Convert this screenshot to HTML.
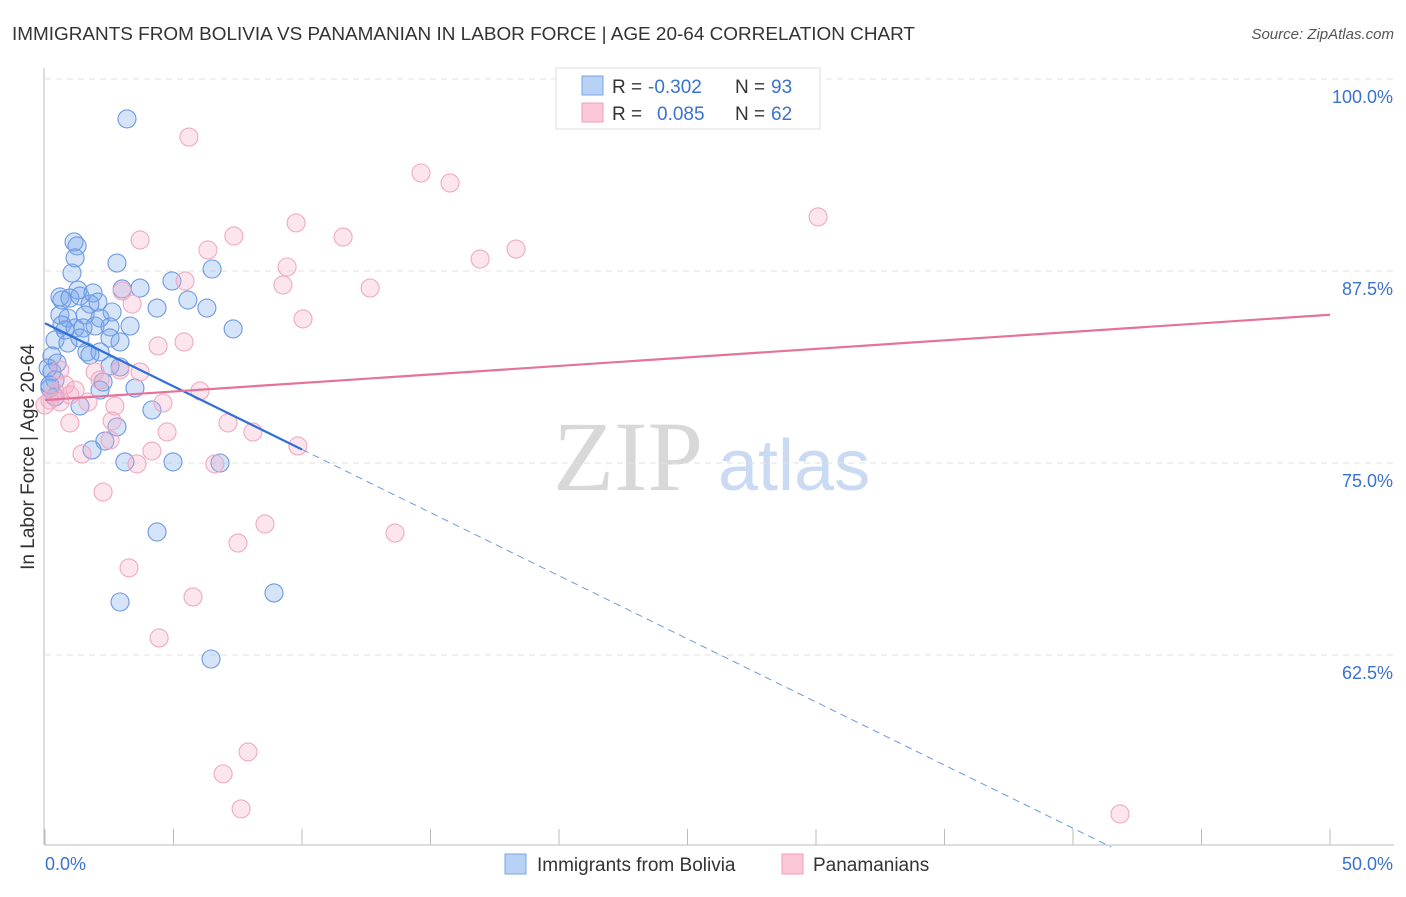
<!DOCTYPE html>
<html><head><meta charset="utf-8"><style>
body{margin:0;background:#fff;font-family:"Liberation Sans",sans-serif;}
svg text{font-family:"Liberation Sans",sans-serif;}
svg text.serif{font-family:"Liberation Serif",serif;}
</style></head><body>
<svg id="chart" width="1406" height="892" xmlns="http://www.w3.org/2000/svg">
<text x="12" y="40" font-size="18" fill="#333" textLength="903" lengthAdjust="spacingAndGlyphs">IMMIGRANTS FROM BOLIVIA VS PANAMANIAN IN LABOR FORCE | AGE 20-64 CORRELATION CHART</text>
<text x="1394" y="39" font-size="15" fill="#555" text-anchor="end" font-style="italic">Source: ZipAtlas.com</text>
<g>
<text class="serif" x="553" y="490" font-size="100" fill="#d8d8d8">ZIP</text>
<text x="718" y="490" font-size="72" fill="#c9daf2">atlas</text>
</g>
<g id="grid"></g>
<g id="axes"></g>
<g id="blue"></g>
<g id="pink"></g>
<g id="trends"></g>
<g>
<rect x="556" y="68" width="264" height="61" fill="#fff" stroke="#ddd"/>
<rect x="582" y="76" width="21" height="19" fill="#b8d2f6" stroke="#7aa6e6"/>
<rect x="582" y="103" width="21" height="19" fill="#fcc8d8" stroke="#ee9cb8"/>
<text x="612" y="93" font-size="19" fill="#333">R =</text>
<text x="648" y="93" font-size="19" fill="#3a72d0">-0.302</text>
<text x="735" y="93" font-size="19" fill="#333">N =</text>
<text x="771" y="93" font-size="19" fill="#3a72d0">93</text>
<text x="612" y="120" font-size="19" fill="#333">R =</text>
<text x="657" y="120" font-size="19" fill="#3a72d0">0.085</text>
<text x="735" y="120" font-size="19" fill="#333">N =</text>
<text x="771" y="120" font-size="19" fill="#3a72d0">62</text>
</g>
<g>
<rect x="505" y="854" width="21" height="20" fill="#b8d2f6" stroke="#7aa6e6"/>
<text x="537" y="871" font-size="19" fill="#333">Immigrants from Bolivia</text>
<rect x="782" y="854" width="21" height="20" fill="#fcc8d8" stroke="#ee9cb8"/>
<text x="813" y="871" font-size="19" fill="#333">Panamanians</text>
</g>
<text transform="translate(34,457) rotate(-90)" font-size="19" fill="#333" text-anchor="middle">In Labor Force | Age 20-64</text>
</svg>
<script>
const yTicks=[100,87.5,75,62.5];
const yTickLabels=["100.0%","87.5%","75.0%","62.5%"];
const xTickLabels=["0.0%","50.0%"];
const blueX=[3.19,1.13,1.25,1.17,2.80,1.05,6.50,4.94,3.70,3.00,1.28,0.58,0.66,0.97,1.36,1.87,5.56,2.06,4.36,6.30,1.75,2.61,0.89,1.56,0.58,3.31,7.32,0.66,1.17,1.48,1.95,2.53,0.39,0.89,1.36,2.53,1.63,2.14,1.75,0.27,0.47,0.27,0.12,0.39,0.19,2.92,2.53,2.26,3.50,2.14,0.39,1.36,4.16,2.80,2.33,1.83,3.11,4.98,6.81,4.36,2.92,8.91,6.46,0.78,2.14,2.92,0.19];
const blueY=[97.40,89.39,89.13,88.35,88.02,87.37,87.63,86.85,86.39,86.33,86.26,85.81,85.61,85.74,85.87,86.07,85.61,85.48,85.09,85.09,85.35,84.83,84.44,84.64,84.64,83.92,83.73,83.99,83.79,83.79,83.92,83.86,83.01,82.81,83.14,83.14,82.23,82.23,82.03,81.97,81.51,80.93,81.19,80.40,79.88,81.25,81.32,80.27,79.88,79.75,79.30,78.71,78.45,77.35,76.43,75.85,75.07,75.07,75.00,70.51,65.95,66.54,62.24,83.66,84.44,82.88,80.08];
const pinkX=[5.60,23.15,14.63,15.76,9.77,30.08,3.70,7.35,11.60,6.34,18.33,16.93,9.42,9.26,12.65,5.45,3.00,3.39,10.04,4.40,5.41,0.58,1.95,2.92,3.70,6.03,1.17,2.14,0.39,0.19,0.58,1.67,2.72,4.59,0.97,2.61,7.12,8.09,4.75,2.53,1.44,4.16,3.58,6.61,9.84,2.26,8.56,7.51,13.62,3.27,5.76,4.44,7.90,6.93,7.63,41.83,0.78,0.0,0.97];
const pinkY=[96.22,97.46,93.88,93.23,90.63,91.02,89.52,89.78,89.71,88.87,88.93,88.28,87.76,86.59,86.39,86.85,86.20,85.35,84.38,82.62,82.88,81.06,80.93,81.06,80.93,79.69,79.75,80.40,79.62,79.10,78.97,78.97,78.71,78.91,77.61,77.74,77.61,77.02,77.02,76.50,75.59,75.78,74.94,74.94,76.11,73.11,71.03,69.79,70.44,68.17,66.28,63.61,56.19,54.76,52.48,52.15,80.08,78.78,79.43];
const blueTrend=[84.1,-0.822];
const pinkTrend=[79.1,0.111];
const NS="http://www.w3.org/2000/svg";
const X0=45,X1=1330,Y100=79,PXPER=192/12.5;
const sx=v=>X0+(v/50)*(X1-X0);
const sy=v=>Y100+(100-v)*PXPER;
function mk(tag,attrs,parent){const e=document.createElementNS(NS,tag);for(const k in attrs)e.setAttribute(k,attrs[k]);parent.appendChild(e);return e;}
const grid=document.getElementById('grid'),axes=document.getElementById('axes');
yTicks.forEach((t,i)=>{
 const l=mk('line',{x1:X0,x2:1394,y1:sy(t),y2:sy(t),stroke:'#e2e2e2','stroke-dasharray':'6,5'},grid);
 
 
 const tx=mk('text',{x:1393,y:sy(t)+24,'font-size':18,fill:'#3a72d0','text-anchor':'end'},axes);
 tx.textContent=yTickLabels[i];
 
 
});
const ax=mk('line',{x1:X0,x2:1394,y1:845,y2:845,stroke:'#bbb'},axes);


const ay=mk('line',{x1:44,x2:44,y1:68,y2:845,stroke:'#bbb'},axes);


for(let i=0;i<=10;i++){const t=mk('line',{x1:sx(i*5),x2:sx(i*5),y1:829,y2:845,stroke:'#bbb'},axes);
 
 }
[[0,'start',45],[50,'end',1393]].forEach((d,i)=>{const t=mk('text',{x:d[2],y:870,'font-size':18,fill:'#3a72d0','text-anchor':d[1]},axes);t.textContent=xTickLabels[i];
 
 });
function pts(xs,ys,g,fill,stroke,name){xs.forEach((x,i)=>{const c=mk('circle',{cx:sx(x),cy:sy(ys[i]),r:9,fill:fill,stroke:stroke,'stroke-width':1.1},g);
 
 });}
pts(pinkX,pinkY,document.getElementById('pink'),'rgba(246,170,196,0.3)','#eeaac2','panamanian-point');
pts(blueX,blueY,document.getElementById('blue'),'rgba(120,165,235,0.3)','#6c9ae2','bolivia-point');
const tr=document.getElementById('trends');
const bf=x=>blueTrend[0]+blueTrend[1]*x,pf=x=>pinkTrend[0]+pinkTrend[1]*x;
const xEnd=(50-blueTrend[0])/blueTrend[1];
const b1=mk('line',{x1:sx(0),y1:sy(bf(0)),x2:sx(10),y2:sy(bf(10)),stroke:'#2f6fd6','stroke-width':2.2},tr);


const b2=mk('line',{x1:sx(10),y1:sy(bf(10)),x2:sx(xEnd),y2:sy(50),stroke:'#6d98dc','stroke-width':1,'stroke-dasharray':'7,5'},tr);


const p1=mk('line',{x1:sx(0),y1:sy(pf(0)),x2:sx(50),y2:sy(pf(50)),stroke:'#e4739b','stroke-width':2.2},tr);


</script>
</body></html>
